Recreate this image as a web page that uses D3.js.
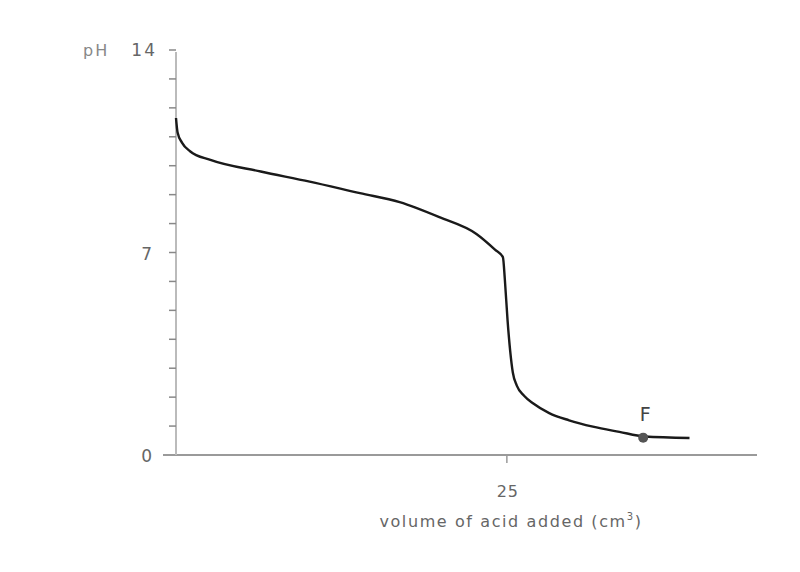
<!DOCTYPE html>
<html><head><meta charset="utf-8">
<script src="https://cdn.jsdelivr.net/npm/d3@7"></script>
<style>body{margin:0;background:#fff}svg{display:block}</style>
</head><body>
<svg id="c" width="800" height="572"></svg>
<script>
const volume = [0, 0.12, 0.45, 1.06, 2.6, 6.4, 10.1, 13.9, 16.9, 19.9, 22.7, 24.1, 24.7, 24.85, 25.05, 25.25, 25.45, 25.75, 26.3, 27.0, 28.2, 29.7, 31.5, 33.5, 35.4, 38.8];
const pH = [11.65, 11.15, 10.8, 10.5, 10.2, 9.8, 9.45, 9.05, 8.74, 8.22, 7.64, 7.1, 6.84, 6.05, 4.67, 3.6, 2.85, 2.4, 2.05, 1.78, 1.45, 1.2, 0.98, 0.8, 0.64, 0.59];
const yTicks = d3.range(0, 15);
const yLabels = [{v:0,t:"0"},{v:7,t:"7"},{v:14,t:"14"}];
const xTickValues = [25];
const pointF = {v: 35.3, pH: 0.6, label: "F"};

const svg = d3.select("#c");
const x = d3.scaleLinear().domain([0, 43.9]).range([176, 757]);
const y = d3.scaleLinear().domain([0, 14]).range([455, 50]);
const axisColor = "#9a9a9a", textColor = "#666";

// x axis line (extends slightly left of y axis)
svg.append("line").attr("x1", x(0) - 13).attr("x2", x(43.9)).attr("y1", y(0)).attr("y2", y(0))
  .attr("stroke", axisColor).attr("stroke-width", 2);
svg.selectAll(".xt").data(xTickValues).join("line")
  .attr("x1", d => x(d)).attr("x2", d => x(d)).attr("y1", y(0)).attr("y2", y(0) + 8)
  .attr("stroke", axisColor).attr("stroke-width", 1.5);
svg.selectAll(".xl").data(xTickValues).join("text")
  .attr("x", d => x(d) + 1).attr("y", y(0) + 42).attr("text-anchor", "middle")
  .attr("font-family", "DejaVu Sans").attr("font-size", 16).attr("letter-spacing", 1)
  .attr("fill", textColor).text(d => d);

// y axis
svg.append("line").attr("x1", x(0)).attr("x2", x(0)).attr("y1", y(0)).attr("y2", y(14) + 2)
  .attr("stroke", "#bbb").attr("stroke-width", 2);
svg.selectAll(".yt").data(yTicks.filter(d => d > 0)).join("line")
  .attr("x1", x(0) - 7).attr("x2", x(0)).attr("y1", d => y(d)).attr("y2", d => y(d))
  .attr("stroke", "#888").attr("stroke-width", 1.5);
svg.selectAll(".yl").data(yLabels).join("text")
  .attr("x", d => d.v === 14 ? 157 : 152).attr("y", d => y(d.v) + (d.v === 14 ? 6 : 7)).attr("text-anchor", "end")
  .attr("font-family", "DejaVu Sans").attr("font-size", 17).attr("letter-spacing", d => d.v === 14 ? 2 : 0)
  .attr("fill", textColor).text(d => d.t);
svg.append("text").attr("x", 83).attr("y", y(14) + 6).attr("font-family", "DejaVu Sans")
  .attr("font-size", 16).attr("letter-spacing", 2).attr("fill", "#888").text("pH");

// axis title
const title = svg.append("text").attr("x", 511).attr("y", 527).attr("text-anchor", "middle")
  .attr("font-family", "DejaVu Sans").attr("font-size", 16).attr("letter-spacing", 1.6).attr("fill", textColor);
title.append("tspan").text("volume of acid added (cm");
title.append("tspan").attr("dy", -7).attr("font-size", 10).text("3");
title.append("tspan").attr("dy", 7).text(")");

// curve
const data = volume.map((v, i) => [v, pH[i]]);
svg.append("path").datum(data)
  .attr("d", d3.line().x(d => x(d[0])).y(d => y(d[1])).curve(d3.curveMonotoneX))
  .attr("fill", "none").attr("stroke", "#1a1a1a").attr("stroke-width", 2.4);

// point F
svg.append("circle").attr("cx", x(pointF.v)).attr("cy", y(pointF.pH)).attr("r", 5)
  .attr("fill", "#555");
svg.append("text").attr("x", x(pointF.v) + 2).attr("y", y(pointF.pH) - 17).attr("text-anchor", "middle")
  .attr("font-family", "DejaVu Sans").attr("font-size", 19).attr("fill", "#444").text(pointF.label);
</script>
</body></html>
